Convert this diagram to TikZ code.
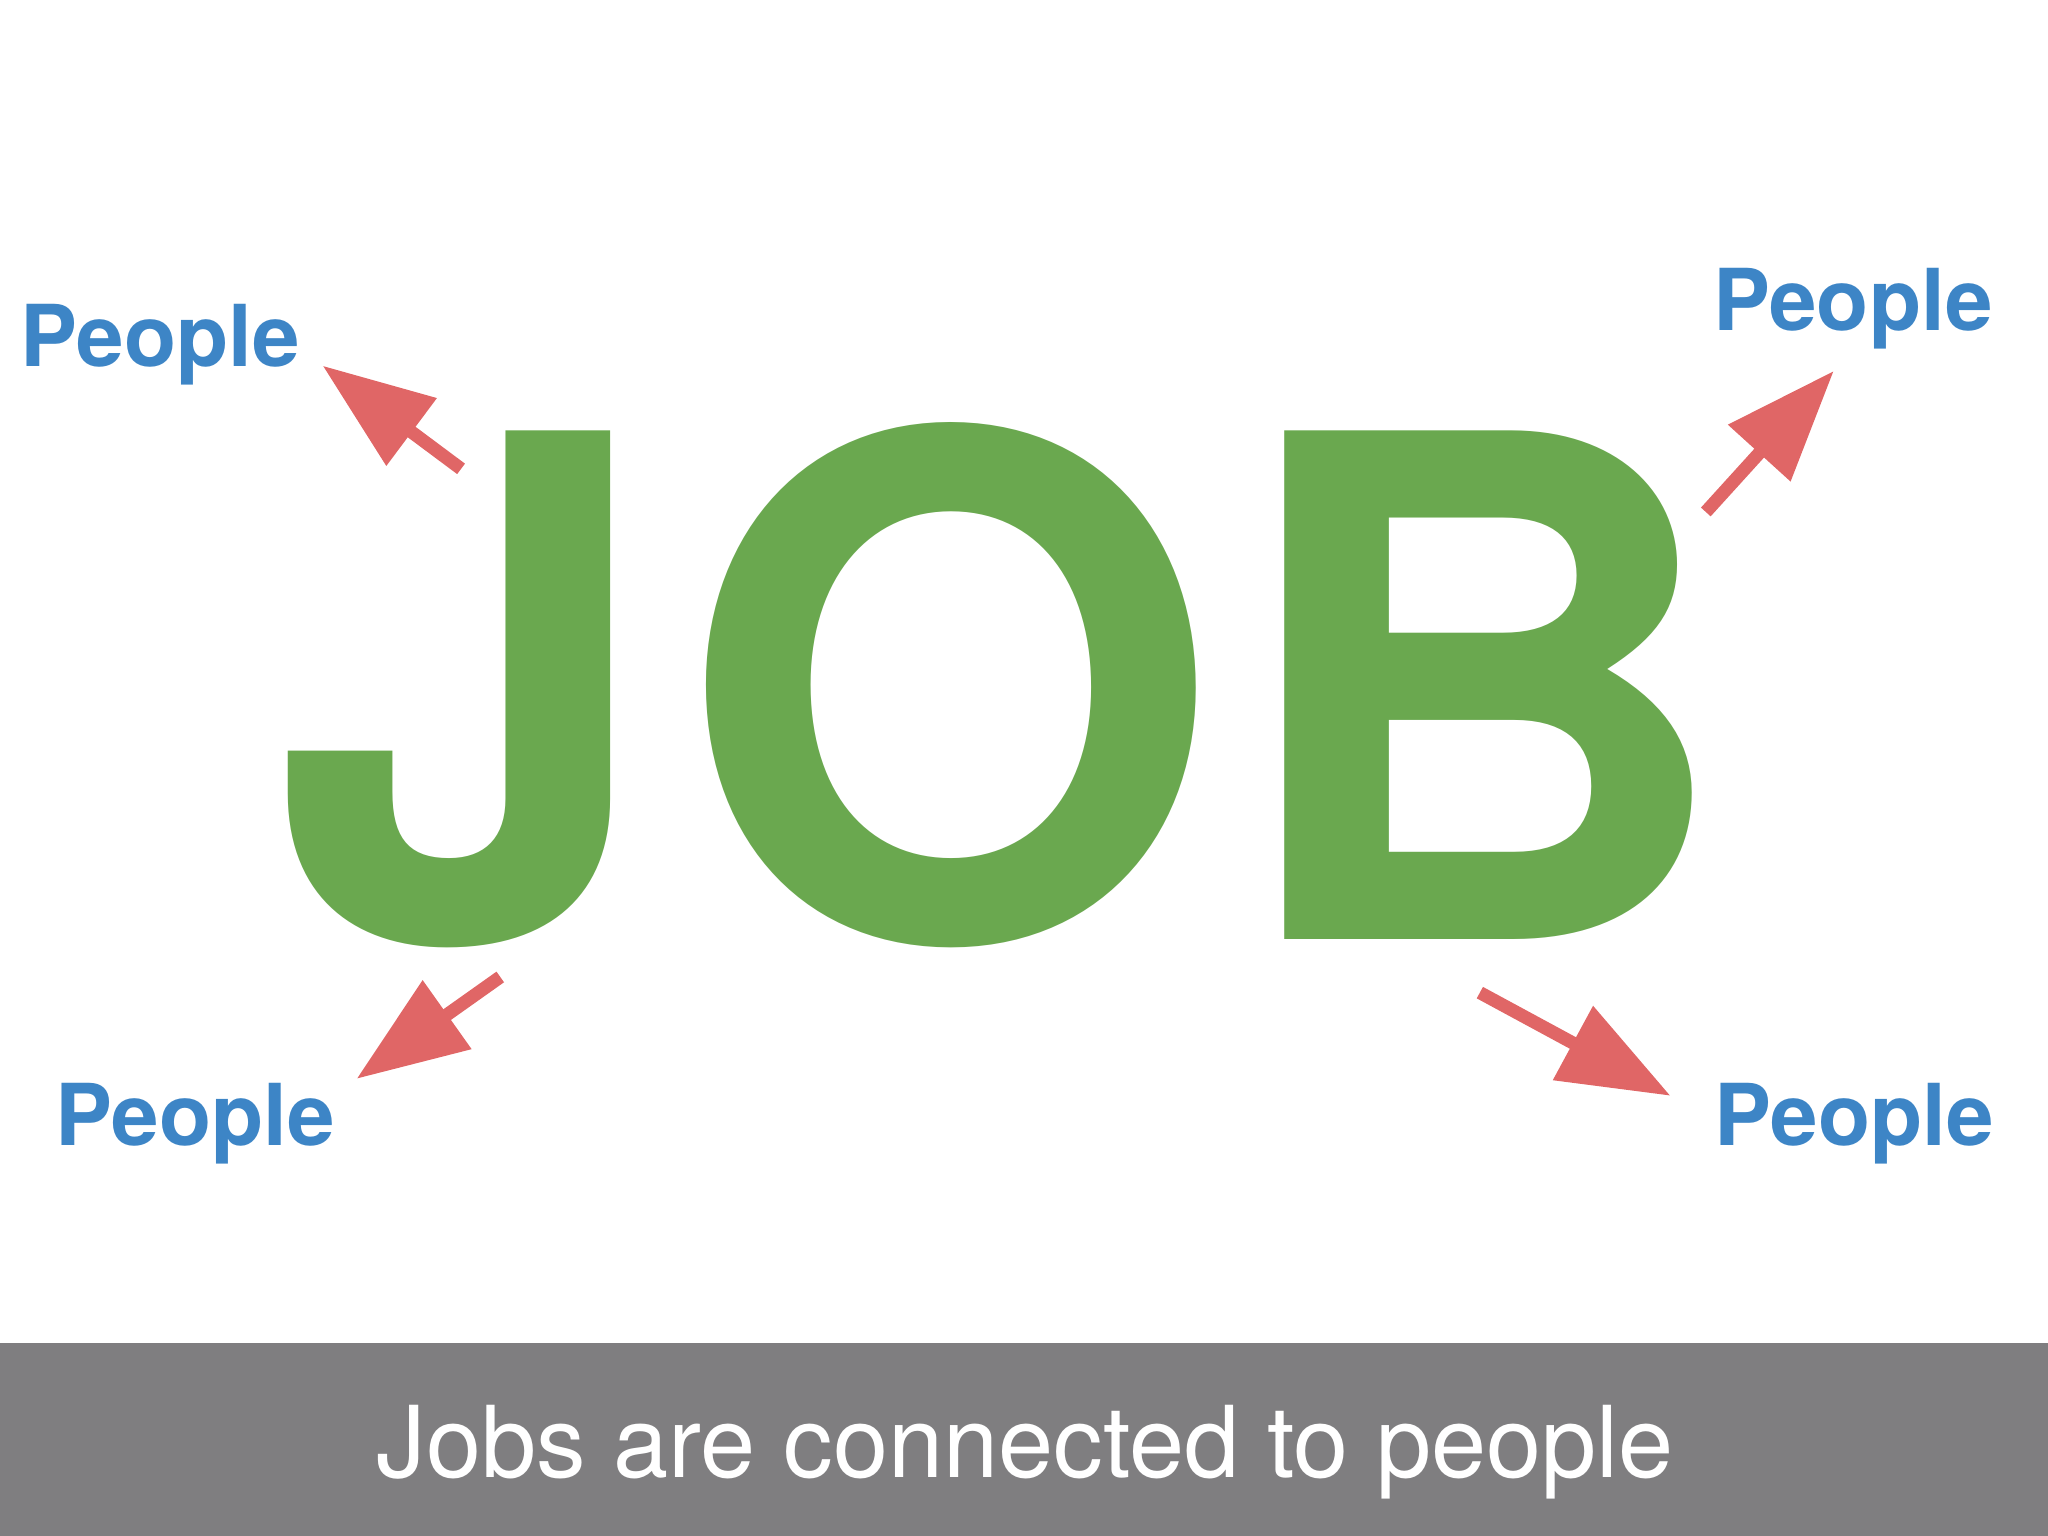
\documentclass[tikz,border=0pt]{standalone}
\usepackage{fontspec}
\setmainfont{TeX Gyre Heros}
\usetikzlibrary{arrows.meta}
\definecolor{jobgreen}{HTML}{6AA84F}
\definecolor{peopleblue}{HTML}{3D85C6}
\definecolor{arrowred}{HTML}{E06666}
\definecolor{bandgray}{HTML}{7F7E80}
\tikzset{
  peoplelabel/.style={anchor=base west,inner sep=0pt,text=peopleblue,
    font=\bfseries\fontsize{18.6}{18.6}\selectfont},
  pointer/.style={draw=arrowred,line width=1mm,
    -{Triangle[length=8.5mm,width=6.2mm,fill=arrowred]}},
}
\begin{document}
\begin{tikzpicture}
		\useasboundingbox (0,0) rectangle (15.68,11.76);
		% caption band
		\fill[bandgray] (0,0) rectangle (15.68,1.48);
		\node (caption) [anchor=base,inner sep=0pt,text=white,
			font=\fontsize{21.6}{21.6}\selectfont] at (7.85,0.45) {Jobs are connected to people};
		% the big word
		\node (job) [anchor=base west,inner sep=0pt,text=jobgreen,
			font=\bfseries\fontsize{152}{152}\selectfont] at (2.07,4.57) {J\kern1.5mm O\kern0.5mm B};
		% people round it
		\node (peopleTL) [peoplelabel] at (0.15,8.95) {People};
		\node (peopleTR) [peoplelabel] at (13.11,9.23) {People};
		\node (peopleBL) [peoplelabel] at (0.42,2.99) {People};
		\node (peopleBR) [peoplelabel] at (13.12,2.99) {People};
		% arrow ends
		\coordinate (tailTL) at (3.53,8.17);
		\coordinate (tipTL) at (2.47,8.96);
		\coordinate (tailTR) at (13.06,7.84);
		\coordinate (tipTR) at (14.04,8.92);
		\coordinate (tailBL) at (3.83,4.28);
		\coordinate (tipBL) at (2.73,3.50);
		\coordinate (tailBR) at (11.33,4.16);
		\coordinate (tipBR) at (12.79,3.37);
		% arrows
		\draw[pointer] (tailTL) -- (tipTL);
		\draw[pointer] (tailTR) -- (tipTR);
		\draw[pointer] (tailBL) -- (tipBL);
		\draw[pointer] (tailBR) -- (tipBR);
\end{tikzpicture}
\end{document}
